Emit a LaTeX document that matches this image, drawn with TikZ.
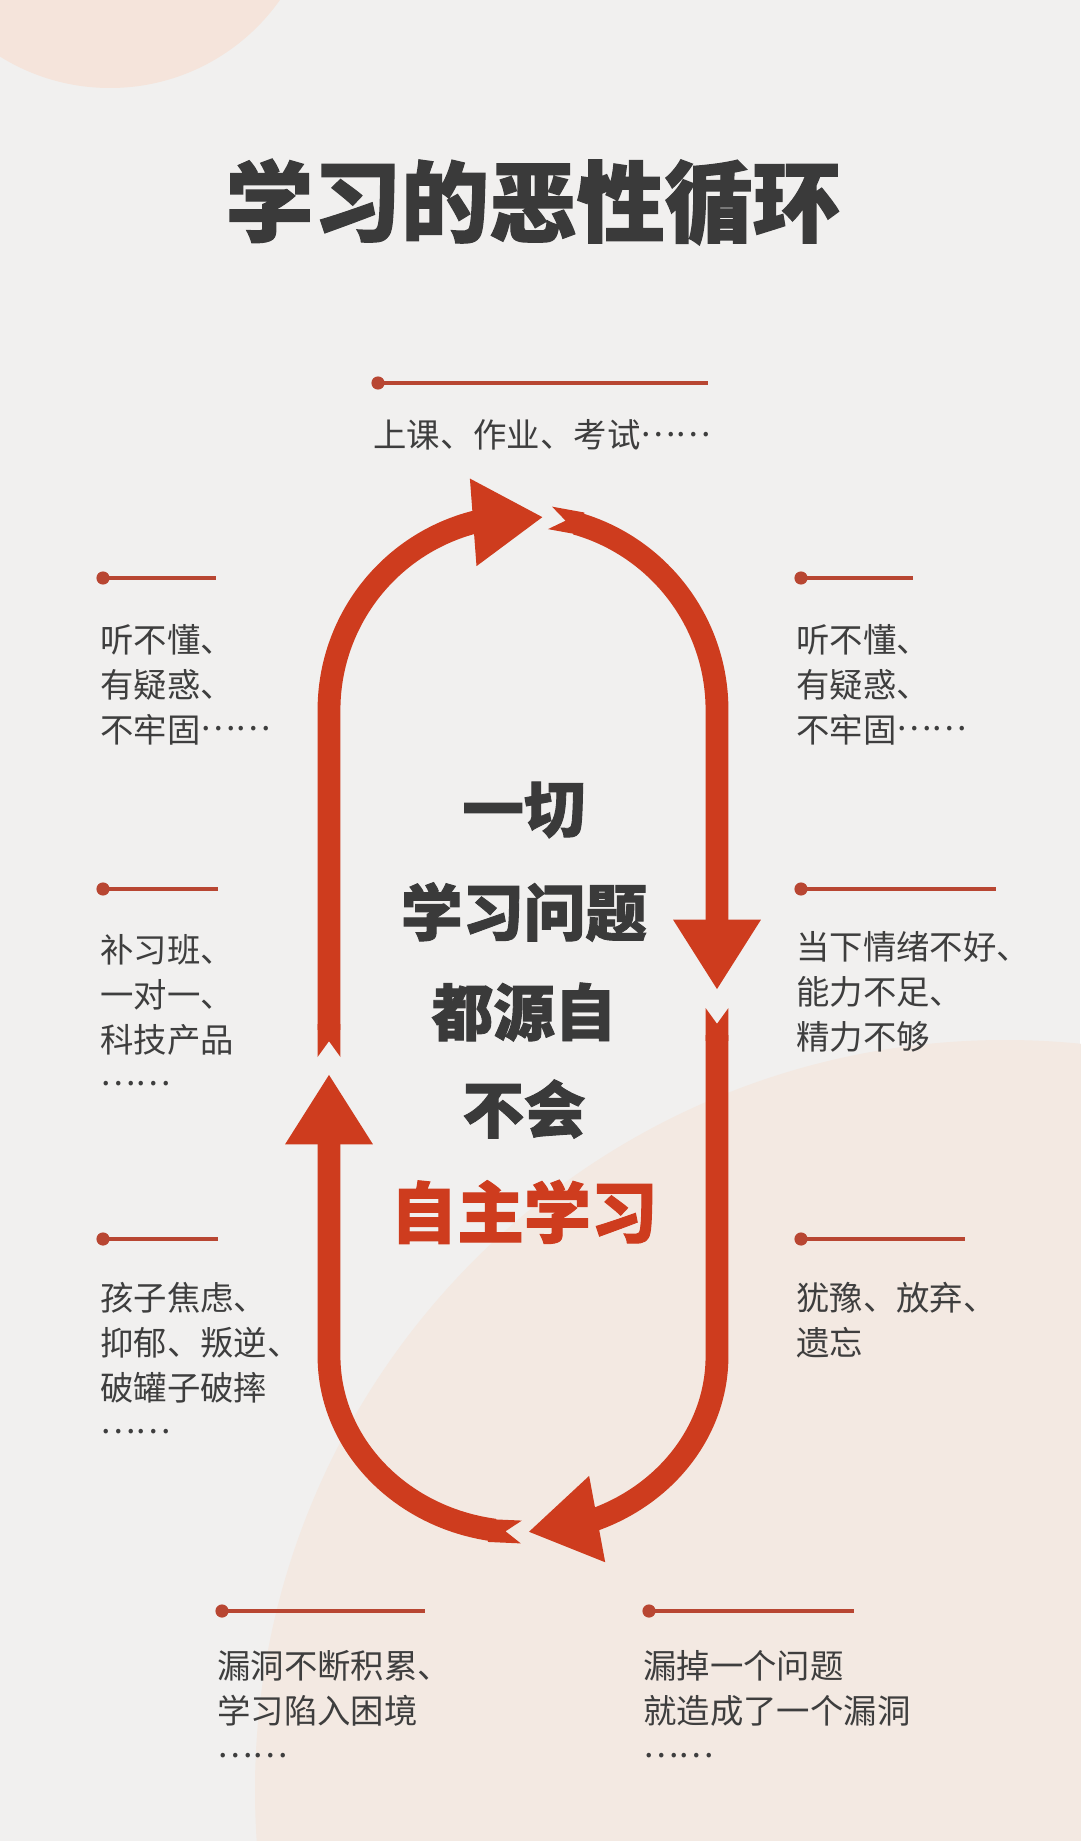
\documentclass[tikz,border=0pt]{standalone}
\usepackage{fontspec}
\newfontfamily\cjk{Noto Sans CJK SC}[BoldFeatures={FakeBold=1.5}]
\usetikzlibrary{arrows.meta,bending}
\definecolor{bggray}{RGB}{241,240,239}
\definecolor{peach}{RGB}{245,228,219}
\definecolor{peachlight}{RGB}{243,233,226}
\definecolor{loopred}{RGB}{206,60,30}
\definecolor{tickred}{RGB}{184,70,50}
\definecolor{textgray}{RGB}{62,62,62}
\definecolor{titlegray}{RGB}{58,58,58}
\newcommand\middots{\raisebox{.33em}{……}}
\begin{document}
\begin{tikzpicture}[x=0.02cm, y=0.02cm,
  lbl/.style={font=\cjk\fontsize{19}{25.5}\selectfont, text=textgray, align=left, anchor=north west, inner sep=0pt},
  tickdot/.style={circle, fill=tickred, inner sep=0pt, minimum size=7.5pt},
  tick/.style={draw=tickred, line width=2pt},
  big/.style={font=\cjk\bfseries\fontsize{35}{40}\selectfont, text=titlegray, inner sep=0pt},
  loop/.style={draw=loopred, line width=13pt, {Triangle Cap[reversed, length=9pt]}-{Triangle[length=40pt,width=47pt]}}]
  % background
  \fill[bggray] (0,0) rectangle (1080,-1841);
  \useasboundingbox (0,0) rectangle (1080,-1841);
  \fill[peach] (110,120) circle (208);
  \fill[peachlight] (1005,-1790) circle (750);
  % title
  \node[font=\cjk\bfseries\fontsize{50}{55}\selectfont, text=titlegray] (title) at (533,-202) {学习的恶性循环};
  % the loop
  \coordinate (lt) at (329,-1057);
  \coordinate (tc) at (523,-710);
  \coordinate (rt) at (717,-1008);
  \coordinate (bc) at (523,-1356);
  \draw[loop] (lt) -- (329,-710) arc[start angle=180, end angle=84, radius=194];
  \draw[loop] (tc) ++(82:194) arc[start angle=82, end angle=0, radius=194] -- (717,-990);
  \draw[loop] (rt) -- (717,-1356) arc[start angle=0, end angle=-88.5, x radius=194, y radius=176];
  \draw[loop] (bc) ++(-90.5:194 and 176) arc[start angle=-90.5, end angle=-180, x radius=194, y radius=176] -- (329,-1074);
  % center text
  \node[big] (c1) at (524,-810) {一切};
  \node[big] (c2) at (524,-912) {学习问题};
  \node[big] (c3) at (524,-1012) {都源自};
  \node[big] (c4) at (524,-1109) {不会};
  \node[big, text=loopred, font=\cjk\bfseries\fontsize{38}{40}\selectfont] (c5) at (524,-1212) {自主学习};
  % label ticks
  \foreach \n/\x/\y/\e in {top/378/383/708, l1/103/578/216, l2/103/889/218, l3/103/1239/218,
      r1/801/578/913, r2/801/889/996, r3/801/1239/965, b1/222/1611/425, b2/649/1611/854}{
    \node[tickdot] (d\n) at (\x,-\y) {};
    \coordinate (e\n) at (\e,-\y);
    \draw[tick] (d\n.center) -- (e\n);
  }
  % labels
  \node[lbl] (ttop) at (373,-419) {上课、作业、考试\middots};
  \node[lbl] (tl1) at (100,-624) {听不懂、\\有疑惑、\\不牢固\middots};
  \node[lbl] (tl2) at (100,-934) {补习班、\\一对一、\\科技产品\\\middots};
  \node[lbl] (tl3) at (100,-1282) {孩子焦虑、\\抑郁、叛逆、\\破罐子破摔\\\middots};
  \node[lbl] (tr1) at (796,-624) {听不懂、\\有疑惑、\\不牢固\middots};
  \node[lbl] (tr2) at (796,-931) {当下情绪不好、\\能力不足、\\精力不够};
  \node[lbl] (tr3) at (796,-1282) {犹豫、放弃、\\遗忘};
  \node[lbl] (tb1) at (217,-1650) {漏洞不断积累、\\学习陷入困境\\\middots};
  \node[lbl] (tb2) at (643,-1650) {漏掉一个问题\\就造成了一个漏洞\\\middots};
\end{tikzpicture}
\end{document}
